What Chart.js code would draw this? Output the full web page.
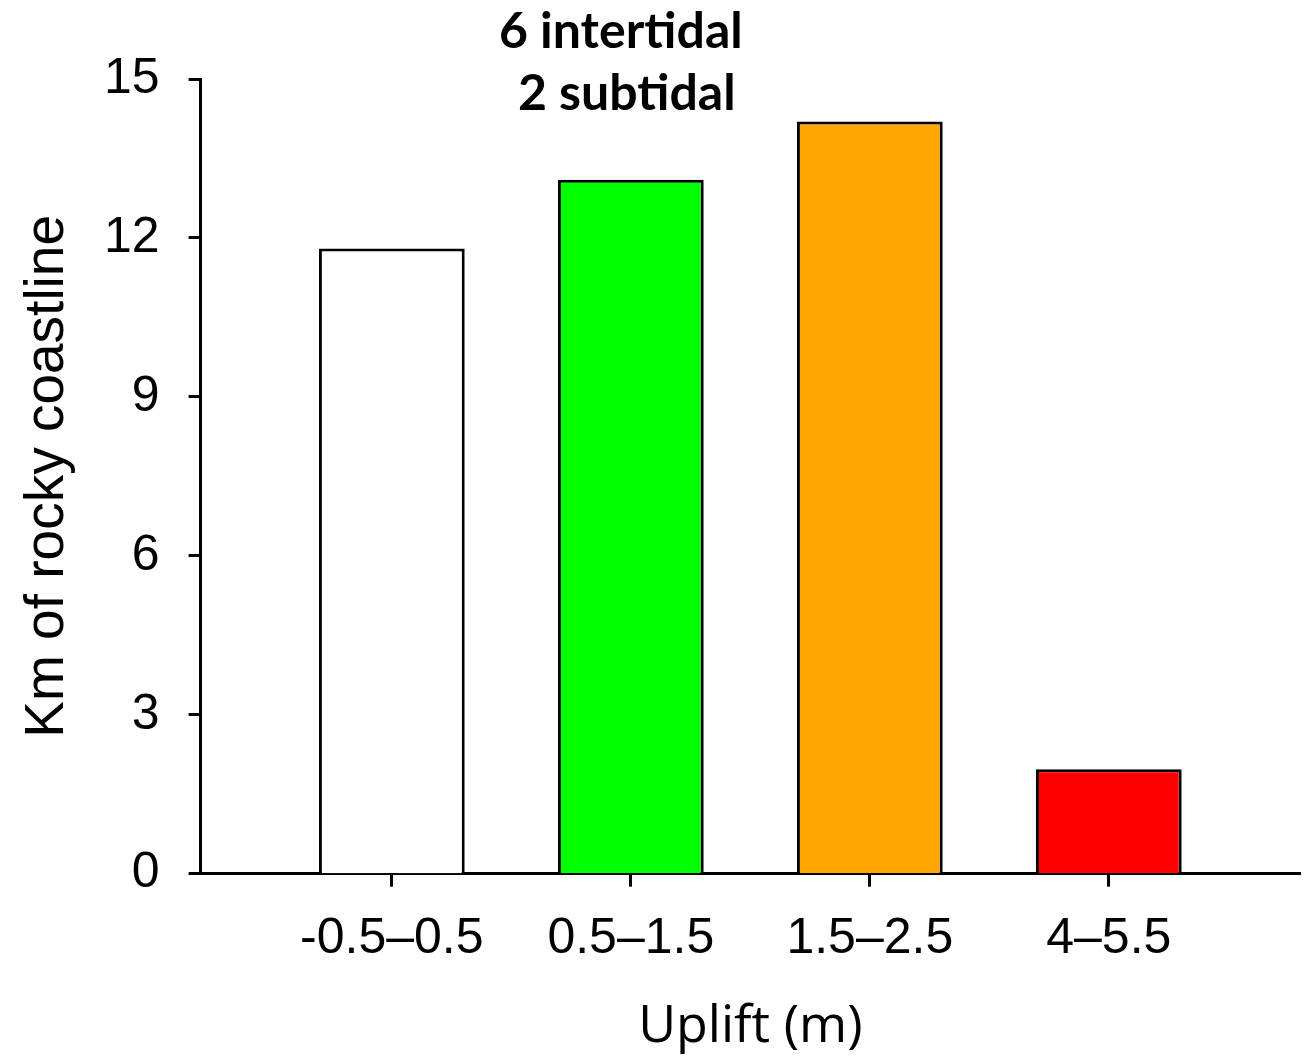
<!DOCTYPE html>
<html>
<head>
<meta charset="utf-8">
<script src="https://cdn.jsdelivr.net/npm/chart.js@4"></script>
<style>
  body { margin: 0; background: #fff; }
  #wrap { width: 1306px; height: 1057px; }
</style>
</head>
<body>
<div id="wrap"><canvas id="chart" width="1306" height="1057"></canvas></div>
<script>
// uplift classes and km of rocky coastline
const categories = ["-0.5\u20130.5", "0.5\u20131.5", "1.5\u20132.5", "4\u20135.5"];
const kmValues = [11.8, 13.1, 14.2, 1.97];
const barColors = ["#ffffff", "#00ff00", "#ffa500", "#ff0000"];
const yTicks = [0, 3, 6, 9, 12, 15];
const noteLines = ["6 intertidal", "2 subtidal"];
const noteIndex = 1; // bar the note sits above

// note above the green bar
const notePlugin = {
    id: "note",
    afterDraw(chart) {
        const ctx = chart.ctx;
        const x = chart.scales.x.getPixelForValue(noteIndex + 1) - 10;
        ctx.save();
        ctx.fillStyle = "#000";
        ctx.font = "bold 50px Lato, 'Open Sans', sans-serif";
        ctx.textAlign = "center";
        ctx.textBaseline = "alphabetic";
        ctx.fillText(noteLines[0], x, 48);
        ctx.fillText(noteLines[1], x + 6, 110);
        ctx.restore();
    }
};

new Chart(document.getElementById("chart"), {
    type: "bar",
    data: {
        datasets: [{
            data: kmValues.map((v, i) => ({ x: i + 1, y: v })),
            backgroundColor: barColors,
            borderColor: "#000",
            borderWidth: 3,
            categoryPercentage: 1,
            barPercentage: 0.61
        }]
    },
    options: {
        responsive: false,
        animation: false,
        layout: { padding: { top: 79, right: 6, bottom: 0, left: 20 } },
        plugins: { legend: { display: false }, tooltip: { enabled: false } },
        scales: {
            x: {
                type: "linear",
                min: 0.2,
                max: 4.8,
                offset: false,
                afterBuildTicks: (axis) => {
                    axis.ticks = categories.map((c, i) => ({ value: i + 1 }));
                },
                ticks: {
                    callback: (v) => categories[v - 1],
                    color: "#000",
                    font: { family: "'Liberation Sans', Arial", size: 50 },
                    padding: 23,
                    maxRotation: 0,
                    autoSkip: false
                },
                grid: { offset: false, drawOnChartArea: false, drawTicks: true, tickLength: 13, tickColor: "#000", tickWidth: 3 },
                border: { display: true, color: "#000", width: 3 },
                title: {
                    display: true,
                    text: "Uplift (m)",
                    color: "#000",
                    font: { family: "'Open Sans', sans-serif", size: 52, lineHeight: 1.16 },
                    padding: { top: 4, bottom: 0 }
                }
            },
            y: {
                min: 0,
                max: 15,
                afterBuildTicks: (axis) => {
                    axis.ticks = yTicks.map(v => ({ value: v }));
                },
                ticks: {
                    color: "#000",
                    font: { family: "'Liberation Sans', Arial", size: 50 },
                    padding: 29
                },
                grid: { drawOnChartArea: false, drawTicks: true, tickLength: 12, tickColor: "#000", tickWidth: 3 },
                border: { display: true, color: "#000", width: 3 },
                title: {
                    display: true,
                    text: "Km of rocky coastline",
                    color: "#000",
                    font: { family: "'Liberation Sans', Arial", size: 55, lineHeight: 1.0 },
                    padding: { top: 0, bottom: 0 }
                }
            }
        }
    },
    plugins: [notePlugin]
});
</script>
</body>
</html>
